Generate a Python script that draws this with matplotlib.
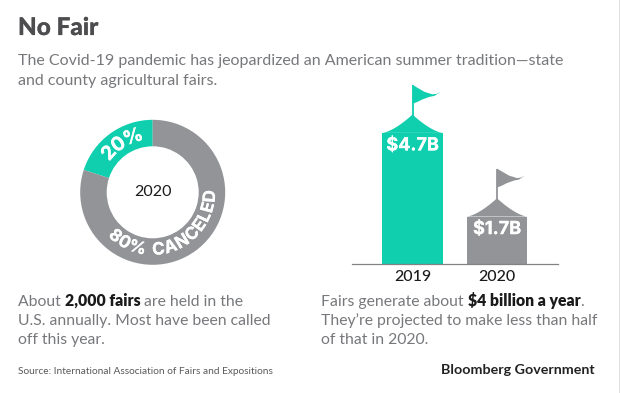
import numpy as np
import matplotlib
matplotlib.use("Agg")
import matplotlib.pyplot as plt
import matplotlib.patheffects as pe
from matplotlib.patches import Polygon
from matplotlib.lines import Line2D

W, H = 620, 393
TEAL = "#0fcfae"
GRAY = "#929497"
BODY = "#77787b"
DARK = "#4d4d4f"
BLACK = "#1a1a1a"

# ---- data ----
donut_labels = ["20%", "80% CANCELED"]
donut_values = [20, 80]
donut_year = "2020"
bar_years = ["2019", "2020"]
bar_values = [4.7, 1.7]
bar_labels = ["$4.7B", "$1.7B"]

title = "No Fair"
subtitle = ["The Covid-19 pandemic has jeopardized an American summer tradition\u2014state",
            "and county agricultural fairs."]
source = "Source: International Association of Fairs and Expositions"
brand = "Bloomberg Government"

plt.rcParams["font.family"] = ["Lato", "DejaVu Sans"]
fig = plt.figure(figsize=(W / 100, H / 100), dpi=100, facecolor="white")

def axes_px(x0, y0, x1, y1):
    return fig.add_axes([x0 / W, 1 - y1 / H, (x1 - x0) / W, (y1 - y0) / H])

def ftext(x, y, s, **kw):
    kw.setdefault("va", "baseline")
    return fig.text(x / W, 1 - y / H, s, **kw)

def thick(color, lw=0.15):
    return [pe.withStroke(linewidth=lw, foreground=color)]

# ---- header ----
ftext(18, 35, title, fontsize=17.5, fontweight="black", color=DARK, path_effects=thick(DARK))
ftext(18, 65, subtitle[0], fontsize=11.55, color=BODY)
ftext(18, 85, subtitle[1], fontsize=11.55, color=BODY)

# ---- donut ----
cx, cy, R = 152.7, 192.3, 72.5
ax_d = axes_px(cx - R, cy - R, cx + R, cy + R)
ax_d.pie(donut_values, colors=[TEAL, GRAY], startangle=90, counterclock=True, radius=1,
         wedgeprops=dict(width=1 - 46 / 72.5, linewidth=0))
ax_d.set_xlim(-1, 1)
ax_d.set_ylim(-1, 1)
ax_d.set_aspect("equal")
ax_d.axis("off")
ax_d.text(0, 0, donut_year, ha="center", va="center", fontsize=11.5, color=BLACK)

LABEL_FONT = "Inter"

def curved(ax, s, mid_deg, r, fontsize, clockwise=True, gap=0.0):
    """Lay a string letter by letter along a circle of radius r (axes data units)."""
    fig.canvas.draw()
    rend = fig.canvas.get_renderer()
    inv = ax.transData.inverted()
    widths = []
    for ch in s:
        t = ax.text(0, 0, "n" if ch == " " else ch, fontsize=fontsize, fontweight="bold", family=LABEL_FONT)
        bb = t.get_window_extent(rend)
        w = abs(inv.transform((bb.x1, 0))[0] - inv.transform((bb.x0, 0))[0])
        widths.append(w * (0.6 if ch == " " else 1) + gap)
        t.remove()
    total = sum(widths)
    sign = -1 if clockwise else 1
    pos = -total / 2
    for ch, w in zip(s, widths):
        a = mid_deg + sign * np.degrees((pos + w / 2) / r)
        x, y = r * np.cos(np.radians(a)), r * np.sin(np.radians(a))
        rot = a - 90 if clockwise else a + 90
        ax.text(x, y, ch, fontsize=fontsize, fontweight="bold", color="white", family=LABEL_FONT,
                ha="center", va="center", rotation=rot, rotation_mode="anchor",
                path_effects=thick("white"))
        pos += w

curved(ax_d, donut_labels[0], 122, 0.80, 14, clockwise=True)
curved(ax_d, donut_labels[1], -67, 0.80, 12.3, clockwise=False)

# ---- bars ----
base_y, px_per_unit = 264.0, 27.9
ax_b = axes_px(352, 70, 558, base_y)
ax_b.set_xlim(352, 558)
ax_b.set_ylim(0, (base_y - 70) / px_per_unit)
ax_b.patch.set_alpha(0)
centers = [412.5, 497]
bar_w = 60.5
colors = [TEAL, GRAY]
bars = ax_b.bar(centers, bar_values, width=bar_w, color=colors, linewidth=0)
for s in ["top", "left", "right"]:
    ax_b.spines[s].set_visible(False)
ax_b.spines["bottom"].set_color("#808285")
ax_b.spines["bottom"].set_linewidth(0.9)
ax_b.set_yticks([])
ax_b.set_xticks(centers, bar_years, fontsize=11.5, color=BLACK, fontweight="medium")
ax_b.tick_params(axis="x", length=0, pad=4)

# tent roof and flag on each bar, offsets relative to bar top (data units)
u = 1 / px_per_unit
t = np.linspace(0, 1, 30)
flag_dx = np.array([0, 6, 12, 20, 24, 28, 22, 17, 10, 5, 0.0])
flag_h = np.array([48, 44.5, 41, 38.5, 39, 41, 37, 36, 33.5, 31, 29.0])
for xc, v, c, lab in zip(centers, bar_values, colors, bar_labels):
    left = -bar_w / 2 * (1 - t)
    rx = np.concatenate([left, -left[::-1]])
    prof = 18.3 * t ** 1.5
    ry = np.concatenate([prof, prof[::-1]])
    ax_b.add_patch(Polygon(np.c_[xc + rx, v + ry * u], closed=True, fc=c, ec="none", clip_on=False))
    ax_b.plot([xc + 0.5, xc + 0.5], [v + 13 * u, v + 48 * u], color=c, lw=1.3, solid_capstyle="butt", clip_on=False)
    ax_b.add_patch(Polygon(np.c_[xc + flag_dx, v + flag_h * u], closed=True, fc=c, ec="none", clip_on=False))
    ax_b.text(xc, v - 13 * u, lab, ha="center", va="center", fontsize=13,
              fontweight="bold", color="white", family=LABEL_FONT, path_effects=thick("white"))

# ---- captions ----
def rich(x, y, parts, fontsize):
    for s, bold in parts:
        tx = ftext(x, y, s, fontsize=fontsize, color=BLACK if bold else BODY,
                   fontweight="heavy" if bold else "normal")
        fig.canvas.draw()
        x = tx.get_window_extent(fig.canvas.get_renderer()).x1

fs = 11.3
rich(18, 306, [("About ", False), ("2,000 fairs", True), (" are held in the", False)], fs)
ftext(18, 325, "U.S. annually. Most have been called", fontsize=fs, color=BODY)
ftext(18, 344, "off this year.", fontsize=fs, color=BODY)
rich(321, 306, [("Fairs generate about ", False), ("$4 billion a year", True), (".", False)], fs)
ftext(321, 325, "They\u2019re projected to make less than half", fontsize=fs, color=BODY)
ftext(321, 344, "of that in 2020.", fontsize=fs, color=BODY)

ftext(18, 374, source, fontsize=7.25, color="#58595b")
ftext(595, 374, brand, fontsize=10.3, fontweight="bold", color="#222222", ha="right")

# thin dark edge down the right side of the image
fig.add_artist(Line2D([619.5 / W, 619.5 / W], [0, 1], color="black", lw=0.9, transform=fig.transFigure))

fig.savefig("out.png", dpi=100, facecolor="white")
